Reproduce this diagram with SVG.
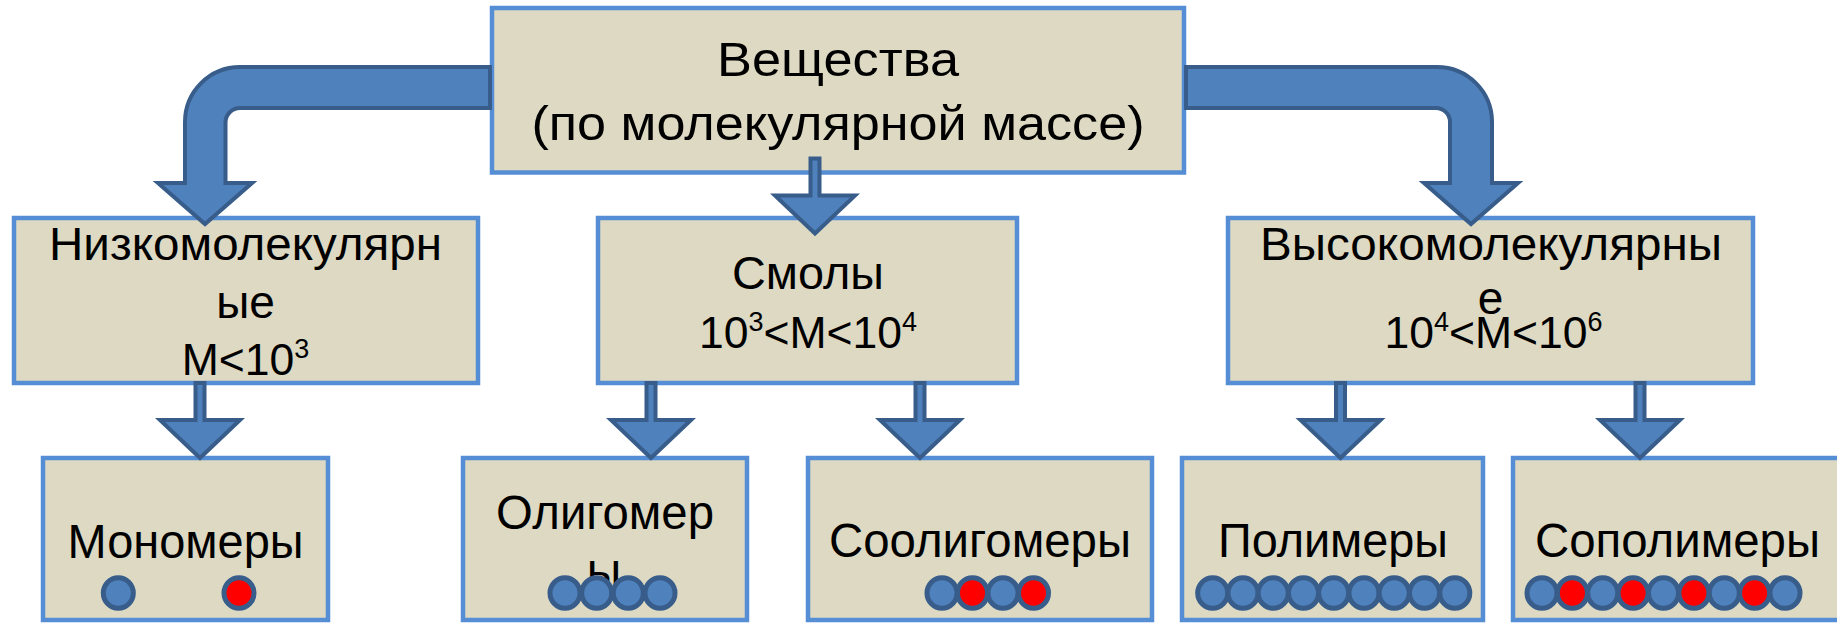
<svg xmlns="http://www.w3.org/2000/svg" xmlns:xlink="http://www.w3.org/1999/xlink" width="1837" height="623" viewBox="0 0 1837 623">
<defs>
<style>
.box{fill:#DDD9C3;stroke:#558ED5;stroke-width:4.5}
.t{font-family:"Liberation Sans",Arial,sans-serif;fill:#000;text-anchor:middle}
.t1{font-size:49px}
.t2{font-size:46px}
.tf{font-size:44.5px}
.t3{font-size:48px}
.sup{font-size:27px}
.arr{fill:#4F81BD;stroke:#385D8A;stroke-width:4;stroke-linejoin:miter;stroke-miterlimit:10}
.b{fill:#4F81BD;stroke:#385D8A;stroke-width:5}
.r{fill:#FF0000;stroke:#385D8A;stroke-width:5}
</style>
<path id="sarrow" d="M -4.5 -78 L 4.5 -78 L 4.5 -41 L 40 -41 L 0 -3 L -40 -41 L -4.5 -41 Z"/>
<ellipse id="dot" cx="0" cy="0" rx="15" ry="15.3"/>
</defs>
<rect width="1837" height="623" fill="#FFFFFF"/>

<g id="node-root">
<rect class="box" x="492" y="8" width="692" height="164.5"/>
<text class="t t1" x="838" y="76" textLength="242" lengthAdjust="spacingAndGlyphs">Вещества</text>
<text class="t t1" x="838" y="140" textLength="613" lengthAdjust="spacingAndGlyphs">(по молекулярной массе)</text>
</g>

<g id="node-low">
<rect class="box" x="14" y="218" width="464" height="165"/>
<text class="t t2" x="245.5" y="260" textLength="393" lengthAdjust="spacingAndGlyphs">Низкомолекулярн</text>
<text class="t t2" x="245.5" y="318">ые</text>
<text class="t tf" x="245.5" y="375">М&lt;10<tspan class="sup" dy="-17">3</tspan></text>
</g>

<g id="node-resins">
<rect class="box" x="598" y="218" width="419" height="165"/>
<text class="t t2" x="808" y="289" textLength="152" lengthAdjust="spacingAndGlyphs">Смолы</text>
<text class="t tf" x="808" y="348">10<tspan class="sup" dy="-17">3</tspan><tspan dy="17">&lt;М&lt;10</tspan><tspan class="sup" dy="-17">4</tspan></text>
</g>

<g id="node-high">
<rect class="box" x="1228" y="218" width="525" height="165"/>
<text class="t t2" x="1491" y="260" textLength="462" lengthAdjust="spacingAndGlyphs">Высокомолекулярны</text>
<text class="t t2" x="1490.5" y="314">е</text>
<text class="t tf" x="1493.5" y="348">10<tspan class="sup" dy="-17">4</tspan><tspan dy="17">&lt;М&lt;10</tspan><tspan class="sup" dy="-17">6</tspan></text>
</g>

<g id="node-monomers">
<rect class="box" x="43" y="458" width="285" height="162"/>
<text class="t t3" x="185.5" y="558" textLength="236" lengthAdjust="spacingAndGlyphs">Мономеры</text>
<use xlink:href="#dot" class="b" x="118.3" y="593"/>
<use xlink:href="#dot" class="r" x="239" y="593"/>
</g>

<g id="node-oligomers">
<rect class="box" x="463" y="458" width="284" height="162"/>
<text class="t t3" x="605" y="529" textLength="218" lengthAdjust="spacingAndGlyphs">Олигомер</text>
<text class="t t3" x="604" y="587">ы</text>
<use xlink:href="#dot" class="b" x="565" y="593"/>
<use xlink:href="#dot" class="b" x="596.7" y="593"/>
<use xlink:href="#dot" class="b" x="628.3" y="593"/>
<use xlink:href="#dot" class="b" x="660" y="593"/>
</g>

<g id="node-cooligomers">
<rect class="box" x="808" y="458" width="344" height="162"/>
<text class="t t3" x="980" y="557" textLength="302" lengthAdjust="spacingAndGlyphs">Соолигомеры</text>
<use xlink:href="#dot" class="b" x="942" y="593"/>
<use xlink:href="#dot" class="r" x="972.5" y="593"/>
<use xlink:href="#dot" class="b" x="1003" y="593"/>
<use xlink:href="#dot" class="r" x="1033.5" y="593"/>
</g>

<g id="node-polymers">
<rect class="box" x="1182" y="458" width="301" height="162"/>
<text class="t t3" x="1333" y="557" textLength="230" lengthAdjust="spacingAndGlyphs">Полимеры</text>
<use xlink:href="#dot" class="b" x="1212.7" y="593"/>
<use xlink:href="#dot" class="b" x="1243" y="593"/>
<use xlink:href="#dot" class="b" x="1273.2" y="593"/>
<use xlink:href="#dot" class="b" x="1303.5" y="593"/>
<use xlink:href="#dot" class="b" x="1333.7" y="593"/>
<use xlink:href="#dot" class="b" x="1364" y="593"/>
<use xlink:href="#dot" class="b" x="1394.2" y="593"/>
<use xlink:href="#dot" class="b" x="1424.5" y="593"/>
<use xlink:href="#dot" class="b" x="1454.8" y="593"/>
</g>

<g id="node-copolymers">
<rect class="box" x="1513" y="458" width="340" height="162"/>
<text class="t t3" x="1677.5" y="557" textLength="285" lengthAdjust="spacingAndGlyphs">Сополимеры</text>
<use xlink:href="#dot" class="b" x="1542" y="593"/>
<use xlink:href="#dot" class="r" x="1572.4" y="593"/>
<use xlink:href="#dot" class="b" x="1602.8" y="593"/>
<use xlink:href="#dot" class="r" x="1633.1" y="593"/>
<use xlink:href="#dot" class="b" x="1663.5" y="593"/>
<use xlink:href="#dot" class="r" x="1693.9" y="593"/>
<use xlink:href="#dot" class="b" x="1724.3" y="593"/>
<use xlink:href="#dot" class="r" x="1754.6" y="593"/>
<use xlink:href="#dot" class="b" x="1785" y="593"/>
</g>

<g id="connectors">
<path class="arr" d="M 490 67 L 240 67 A 55 55 0 0 0 185 122 L 185 183 L 158 183 L 205 224 L 252 183 L 225.5 183 L 225.5 122.5 A 14.5 14.5 0 0 1 240 108 L 490 108 Z"/>
<path class="arr" d="M 1186 67 L 1437 67 A 55 55 0 0 1 1492 122 L 1492 183 L 1518 183 L 1471 224 L 1424 183 L 1450 183 L 1450 122 A 14 14 0 0 0 1436 108 L 1186 108 Z"/>
<use xlink:href="#sarrow" class="arr" x="815" y="236.5"/>
<use xlink:href="#sarrow" class="arr" x="200" y="461"/>
<use xlink:href="#sarrow" class="arr" x="651" y="461"/>
<use xlink:href="#sarrow" class="arr" x="920" y="461"/>
<use xlink:href="#sarrow" class="arr" x="1340.5" y="461"/>
<use xlink:href="#sarrow" class="arr" x="1640" y="461"/>
</g>
</svg>
